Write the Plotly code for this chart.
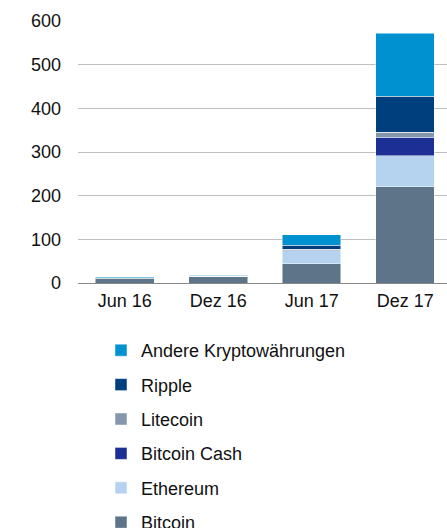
import plotly.graph_objects as go

categories = ["Jun 16", "Dez 16", "Jun 17", "Dez 17"]
bitcoin = [11, 15, 44, 221]
ethereum = [1, 0.7, 30, 70]
bitcoin_cash = [0, 0, 0, 43]
litecoin = [0.3, 0.2, 3, 11.5]
ripple = [0.3, 0.2, 10, 82]
andere = [2, 1.5, 23, 145]

series = [
    ("Bitcoin", bitcoin, "#5E7488"),
    ("Ethereum", ethereum, "#B5D2EE"),
    ("Bitcoin Cash", bitcoin_cash, "#1B2F94"),
    ("Litecoin", litecoin, "#8497AC"),
    ("Ripple", ripple, "#003F7E"),
    ("Andere Kryptowährungen", andere, "#0092D0"),
]

fig = go.Figure()
n = len(series)
for i, (name, vals, col) in enumerate(series):
    fig.add_trace(go.Bar(
        x=categories, y=vals, name=name, legendgroup=name, legendrank=n - i,
        marker=dict(color=col, line=dict(color="rgba(255,255,255,0.6)", width=0.8)),
    ))

fig.update_layout(
    width=447, height=528,
    barmode="stack", bargap=0.374,
    margin=dict(l=78, r=0, t=21, b=245, autoexpand=False),
    plot_bgcolor="white", paper_bgcolor="white",
    font=dict(family="Liberation Sans, Arial", size=18, color="#111111"),
    showlegend=True,
    legend=dict(
        traceorder="grouped", tracegroupgap=8,
        xref="container", yref="container",
        x=101/447, y=1-332/528, xanchor="left", yanchor="top",
        font=dict(size=18), bgcolor="rgba(0,0,0,0)",
    ),
    xaxis=dict(
        range=[-0.5, 3.447], showline=True, linecolor="#888888", linewidth=1,
        ticks="", ticklabelstandoff=1, automargin=False, tickangle=0,
    ),
    yaxis=dict(
        range=[0, 600], dtick=100, showgrid=True, gridcolor="#BFBFBF", gridwidth=1,
        zeroline=False, showline=False, ticks="", ticklabelstandoff=16, automargin=False,
    ),
)

fig.write_html(
    "out.html",
    config={"displayModeBar": False},
    post_script="document.body.style.margin='0';document.body.style.overflow='hidden';",
)
